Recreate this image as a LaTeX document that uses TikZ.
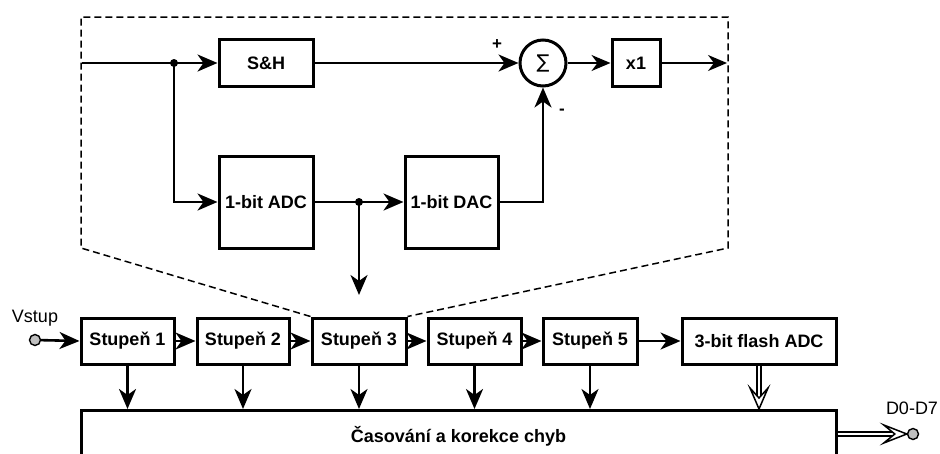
\documentclass[tikz,border=0pt]{standalone}
\usepackage{fontspec}
\setmainfont{Liberation Sans}
\newfontfamily\symfont{DejaVu Sans}
\usetikzlibrary{arrows.meta,calc}
\begin{document}
\begin{tikzpicture}[x=1pt,y=-1pt,
  box/.style={draw, line width=3pt, font=\fontsize{18}{20}\selectfont\bfseries, inner sep=0pt, align=center},
  wire/.style={line width=2.6pt},
  conn/.style={line width=2.6pt, -{Stealth[length=20pt,width=17pt,inset=6pt]}},
  thinconn/.style={line width=1.5pt, -{Stealth[length=19pt,width=16pt,inset=6pt]}},
  frame/.style={line width=1.5pt, dash pattern=on 7pt off 4pt},
  dot/.style={circle, fill, inner sep=0pt, minimum size=8pt},
  port/.style={circle, draw, fill=gray!50, line width=1.4pt, minimum size=11pt, inner sep=0pt},
  dbl/.style={line width=1.3pt, double distance=2.6pt},
  hollowhead/.style={line width=1.5pt, fill=white, line join=miter},
  lbl/.style={font=\fontsize{18}{20}\selectfont, inner sep=0pt}
]
\useasboundingbox (0,0) rectangle (940,453);

% ---- top detail ----
\coordinate (in) at (82,63);
\coordinate (j1) at (174,63);
\coordinate (j2) at (359,202);
\coordinate (out) at (727,63);
\coordinate (dn) at (359,295);
\coordinate (f1) at (81,248);
\coordinate (f2) at (81,17);
\coordinate (f3) at (728,17);
\coordinate (f4) at (728,248);

\node[box, minimum width=94pt, minimum height=47pt] (sh) at (266,63) {S\&H};
\node[box, minimum width=94pt, minimum height=92pt] (adc) at (266,202) {1-bit ADC};
\node[box, minimum width=93pt, minimum height=92pt] (dac) at (451.5,202) {1-bit DAC};
\node[box, circle, minimum size=46pt, font=\fontsize{19}{20}\selectfont\symfont] (sum) at (543,63) {∑};
\node[box, minimum width=48pt, minimum height=47pt] (x1) at (636,63) {x1};
\node[font=\fontsize{17}{18}\selectfont\bfseries, inner sep=0pt] (plus) at (497,45) {+};
\node[font=\fontsize{17}{18}\selectfont\bfseries, inner sep=0pt] (minus) at (562,112) {-};

\draw[wire] (in) -- (j1);
\draw[conn] (j1) -- (sh.west);
\draw[conn] (j1) |- (adc.west);
\draw[wire] (adc.east) -- (j2);
\draw[conn] (j2) -- (dac.west);
\draw[conn] (j2) -- (dn);
\draw[conn] (sh.east) -- (sum.west);
\draw[conn] (dac.east) -| (sum.south);
\draw[thinconn] (sum.east) -- (x1.west);
\draw[thinconn] (x1.east) -- (out);
\node[dot] (d1) at (j1) {};
\node[dot] (d2) at (j2) {};

% ---- pipeline ----
\node[box, minimum width=93pt, minimum height=46pt] (s1) at (127.5,341) {Stupeň 1};
\node[box, minimum width=92pt, minimum height=46pt] (s2) at (243,341) {Stupeň 2};
\node[box, minimum width=94pt, minimum height=46pt] (s3) at (359,341) {Stupeň 3};
\node[box, minimum width=93pt, minimum height=46pt] (s4) at (474.5,341) {Stupeň 4};
\node[box, minimum width=94pt, minimum height=46pt] (s5) at (590,341) {Stupeň 5};
\node[box, minimum width=154pt, minimum height=46pt] (fl) at (759,341) {3-bit flash ADC};
\node[box, minimum width=755pt, minimum height=52pt, anchor=north] (cor) at (458.5,409) {Časování a korekce chyb};

\draw[frame] (s3.north west) -- (f1) -- (f2) -- (f3) -- (f4) -- (s3.north east);

\node[port] (vin) at (35,340) {};
\node[lbl] (vstup) at (35,318) {Vstup};
\draw[conn] (vin) -- (s1.west);
\draw[conn] (s1) -- (s2);
\draw[conn] (s2) -- (s3);
\draw[conn] (s3) -- (s4);
\draw[conn] (s4) -- (s5);
\draw[conn] (s5) -- (fl);
\foreach \s in {s1,s2,s3,s4,s5}
  \draw[conn] (\s.south) -- (\s.south |- cor.north);

% hollow double arrow from flash ADC
\coordinate (flt) at (fl.south |- cor.north);
\draw[dbl] (fl.south) -- ($(flt)+(0,-9)$);
\draw[hollowhead] (flt) -- ++(-9,-21) -- ++(9,10) -- ++(9,-10) -- cycle;

% hollow double arrow to output
\node[port] (dout) at (913,434) {};
\node[lbl] (dlab) at (912,408) {D0-D7};
\coordinate (dt) at (dout.west);
\draw[dbl] (cor.east |- dout) -- ($(dt)+(-9,0)$);
\draw[hollowhead] (dt) -- ++(-23,-9) -- ++(11,9) -- ++(-11,9) -- cycle;
\end{tikzpicture}
\end{document}
